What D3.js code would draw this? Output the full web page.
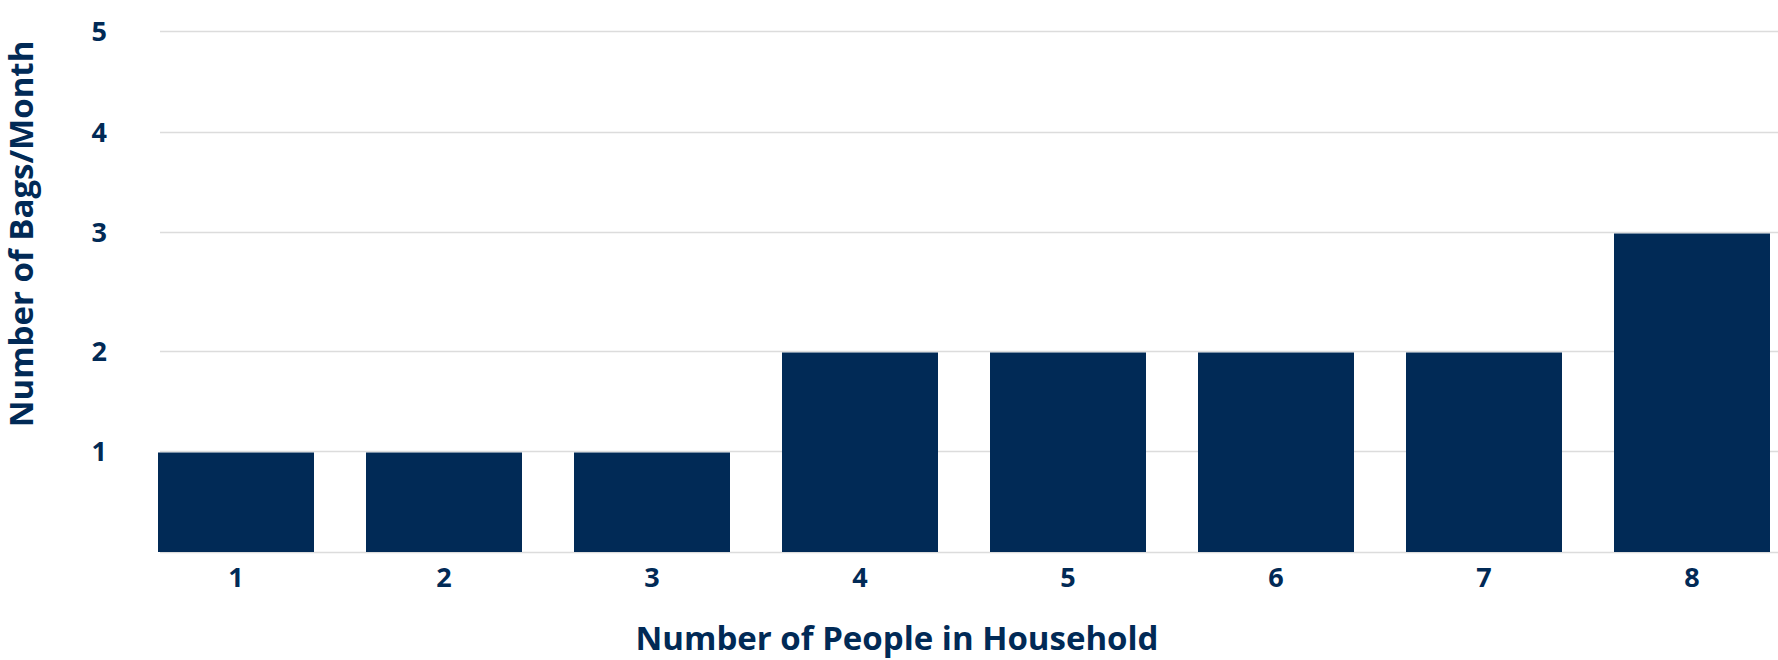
<!DOCTYPE html>
<html><head><meta charset="utf-8">
<script src="https://cdn.jsdelivr.net/npm/d3@7"></script>
<style>body{margin:0;background:#fff}</style></head>
<body><svg id="c" width="1778" height="660"></svg>
<script>
const categories = ["1","2","3","4","5","6","7","8"];
const values = [1,1,1,2,2,2,2,3];
const yTicks = [1,2,3,4,5];
const color = "#012a56", font = "'Open Sans', sans-serif";
const svg = d3.select("#c");
const x = d3.scaleBand().domain(categories).range([132,1796]).paddingInner(0.25).paddingOuter(0.125);
const y = d3.scaleLinear().domain([0,1,2,3,4,5]).range([552,451,351,232,132,31]);
svg.append("g").selectAll("line").data([0].concat(yTicks)).join("line")
  .attr("x1",160).attr("x2",1778).attr("y1",d=>y(d)+0.5).attr("y2",d=>y(d)+0.5)
  .attr("stroke","#dcdcdc").attr("stroke-width",1.3);
svg.append("g").selectAll("rect").data(values).join("rect")
  .attr("x",(d,i)=>x(categories[i])).attr("width",x.bandwidth())
  .attr("y",d=>y(d)+1.5).attr("height",d=>y(0)-y(d)-1.5).attr("fill",color);
svg.append("g").selectAll("text").data(yTicks).join("text")
  .attr("x",107).attr("y",d=>y(d)+3).attr("text-anchor","end").attr("dominant-baseline","middle")
  .attr("font-family",font).attr("font-weight",700).attr("font-size",27).attr("fill",color).text(d=>d);
svg.append("g").selectAll("text").data(categories).join("text")
  .attr("x",d=>x(d)+x.bandwidth()/2).attr("y",580).attr("text-anchor","middle").attr("dominant-baseline","middle")
  .attr("font-family",font).attr("font-weight",700).attr("font-size",27).attr("fill",color).text(d=>d);
svg.append("text").attr("x",897).attr("y",641).attr("text-anchor","middle").attr("dominant-baseline","middle")
  .attr("font-family",font).attr("font-weight",700).attr("font-size",33).attr("fill",color).text("Number of People in Household");
svg.append("text").attr("transform","translate(24,234) rotate(-90)").attr("text-anchor","middle").attr("dominant-baseline","middle")
  .attr("font-family",font).attr("font-weight",700).attr("font-size",33).attr("fill",color).text("Number of Bags/Month");
</script></body></html>
